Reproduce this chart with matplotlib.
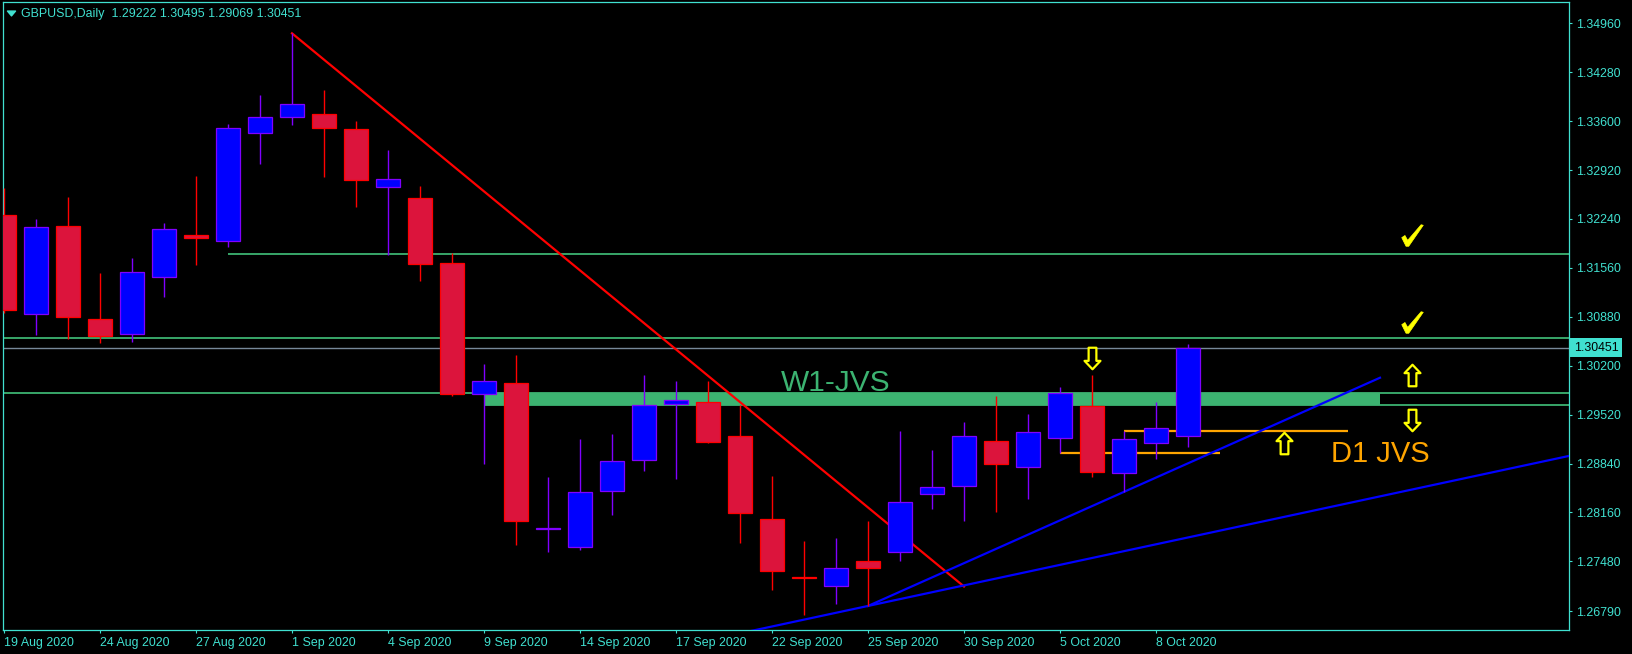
import numpy as np
import matplotlib
matplotlib.use("Agg")
import matplotlib.pyplot as plt
from matplotlib.path import Path
from matplotlib.transforms import blended_transform_factory

# GBPUSD daily candles
dates = ["2020-08-19", "2020-08-20", "2020-08-21", "2020-08-24", "2020-08-25",
         "2020-08-26", "2020-08-27", "2020-08-28", "2020-08-31", "2020-09-01",
         "2020-09-02", "2020-09-03", "2020-09-04", "2020-09-07", "2020-09-08",
         "2020-09-09", "2020-09-10", "2020-09-11", "2020-09-14", "2020-09-15",
         "2020-09-16", "2020-09-17", "2020-09-18", "2020-09-21", "2020-09-22",
         "2020-09-23", "2020-09-24", "2020-09-25", "2020-09-28", "2020-09-29",
         "2020-09-30", "2020-10-01", "2020-10-02", "2020-10-05", "2020-10-06",
         "2020-10-07", "2020-10-08", "2020-10-09"]
opens = [1.32295, 1.30915, 1.32138, 1.30845, 1.30637, 1.31429, 1.32013, 1.31934,
         1.33431, 1.33653, 1.33695, 1.33491, 1.32680, 1.32527, 1.31624, 1.29802,
         1.29955, 1.27935, 1.27684, 1.28462, 1.28885, 1.29663, 1.29696, 1.29223,
         1.28070, 1.27265, 1.27142, 1.27485, 1.27606, 1.28413, 1.28524, 1.29149,
         1.28788, 1.29191, 1.29640, 1.28705, 1.29130, 1.29222]
highs = [1.32670, 1.32239, 1.32545, 1.31489, 1.31697, 1.32184, 1.32837, 1.33560,
         1.33963, 1.34821, 1.34033, 1.33602, 1.33199, 1.32698, 1.31763, 1.30224,
         1.30349, 1.28653, 1.29181, 1.29251, 1.30071, 1.29987, 1.29987, 1.29650,
         1.28667, 1.27763, 1.27801, 1.28041, 1.29292, 1.29028, 1.29417, 1.29779,
         1.29529, 1.29900, 1.30071, 1.29292, 1.29696, 1.30495]
lows = [1.30930, 1.30627, 1.30571, 1.30520, 1.30534, 1.31159, 1.31600, 1.31854,
        1.33008, 1.33550, 1.32828, 1.32406, 1.31739, 1.31382, 1.29779, 1.28838,
        1.27711, 1.27606, 1.27642, 1.28129, 1.28741, 1.28625, 1.29130, 1.27739,
        1.27086, 1.26734, 1.26887, 1.26860, 1.27489, 1.28208, 1.28041, 1.28170,
        1.28351, 1.28986, 1.28657, 1.28440, 1.28899, 1.29069]
closes = [1.30978, 1.32124, 1.30873, 1.30617, 1.31499, 1.32096, 1.31980, 1.33500,
          1.33653, 1.33834, 1.33509, 1.32786, 1.32791, 1.31618, 1.29807, 1.29983,
          1.28037, 1.27940, 1.28440, 1.28871, 1.29650, 1.29719, 1.29144, 1.28149,
          1.27351, 1.27255, 1.27384, 1.27392, 1.28301, 1.28510, 1.29219, 1.28838,
          1.29274, 1.29817, 1.28727, 1.29177, 1.29330, 1.30451]

price_ticks = [1.34960, 1.34280, 1.33600, 1.32920, 1.32240, 1.31560, 1.30880,
               1.30200, 1.29520, 1.28840, 1.28160, 1.27480, 1.26790]
date_tick_bars = [0, 3, 6, 9, 12, 15, 18, 21, 24, 27, 30, 33, 36]
date_tick_labels = ["19 Aug 2020", "24 Aug 2020", "27 Aug 2020", "1 Sep 2020",
                    "4 Sep 2020", "9 Sep 2020", "14 Sep 2020", "17 Sep 2020",
                    "22 Sep 2020", "25 Sep 2020", "30 Sep 2020", "5 Oct 2020",
                    "8 Oct 2020"]

# drawn objects (bar index, price)
red_trend = ([9, 30], [1.34821, 1.27131])
blue_trend1 = ([27, 43], [1.26860, 1.30033])
blue_trend2 = ([20, 50], [1.26194, 1.29050])
w1_zone = ([15, 43], 1.29650, 1.29817)
green_levels = [(1.31753, 7), (1.30585, -1), (1.29817, -1), (1.29650, 15)]
d1_levels = [(1.29297, 35, 42), (1.28990, 33, 38)]
up_arrows = ([40, 44], [1.29121, 1.30064])
down_arrows = ([34, 44], [1.30307, 1.29452])
checks = ([44, 44], [1.32024, 1.30801])

FG = "#40E0D0"
GREEN = "#3CB371"

fig = plt.figure(figsize=(16.33, 6.54), dpi=100, facecolor="black")
ax = fig.add_axes([2.7 / 1633, 24 / 654, (1569 - 2.7) / 1633, (630 - 2.3) / 654])
ax.set_facecolor("black")
ax.set_xlim(-0.04, 48.906)
ax.set_ylim(1.26526, 1.35252)

x = np.arange(len(dates))
o = np.array(opens)
h = np.array(highs)
l = np.array(lows)
c = np.array(closes)
up = c >= o

# background objects
ax.fill_between(w1_zone[0], w1_zone[1], w1_zone[2], color=GREEN, lw=0, zorder=1)
for lvl, start in green_levels:
    ax.hlines(lvl, start, 60, color=GREEN, lw=1.3, zorder=2)
ax.hlines(closes[-1], -1, 60, color="#778899", lw=1.0, zorder=2)
for lvl, a, b in d1_levels:
    ax.hlines(lvl, a, b, color="#FFA500", lw=1.6, zorder=2)
ax.plot(*red_trend, color="#FF0000", lw=1.6, zorder=3)
ax.plot(*blue_trend1, color="#0000FF", lw=1.6, zorder=3)
ax.plot(*blue_trend2, color="#0000FF", lw=1.6, zorder=3)

# candles
edge = np.where(up, "#8000FF", "#FF0000")
body = np.where(up, "#0000FF", "#DC143C")
ax.vlines(x, l, h, colors=edge, lw=1.0, zorder=5)
ax.bar(x, np.abs(c - o), bottom=np.minimum(o, c), width=0.76, color=body,
       edgecolor=edge, linewidth=0.9, zorder=6)

# labels and marks
ax.text(24.28, 1.29852, "W1-JVS", color=GREEN, fontsize=21.5,
        family="Liberation Sans", ha="left", va="baseline", zorder=7)
ax.text(41.47, 1.28865, "D1 JVS", color="#FFA500", fontsize=21,
        family="Liberation Sans", ha="left", va="baseline", zorder=7)

up_path = Path([(0, 1), (0.74, 0.22), (0.36, 0.22), (0.36, -1), (-0.36, -1),
                (-0.36, 0.22), (-0.74, 0.22), (0, 1)],
               [Path.MOVETO] + [Path.LINETO] * 6 + [Path.CLOSEPOLY])
down_path = Path(up_path.vertices * [1, -1], up_path.codes)
check_path = Path([(-1.0, -0.2), (-0.7, 0.0), (-0.45, -0.45), (0.8, 1.0), (1.0, 0.95),
                   (-0.35, -1.0), (-0.6, -1.0), (-1.0, -0.2)],
                  [Path.MOVETO] + [Path.LINETO] * 6 + [Path.CLOSEPOLY])
ax.plot(*up_arrows, ls="none", marker=up_path, ms=15.5, mfc="black",
        mec="#FFFF00", mew=1.6, zorder=7)
ax.plot(*down_arrows, ls="none", marker=down_path, ms=15.5, mfc="black",
        mec="#FFFF00", mew=1.6, zorder=7)
ax.plot(*checks, ls="none", marker=check_path, ms=15.5, mfc="#FFFF00",
        mec="#FFFF00", mew=0.5, zorder=7)

# axes styling
for sp in ax.spines.values():
    sp.set_color(FG)
    sp.set_linewidth(0.9)
ax.yaxis.tick_right()
ax.set_yticks(price_ticks)
ax.set_yticklabels([f"{p:.5f}" for p in price_ticks])
ax.set_xticks(date_tick_bars)
ax.set_xticklabels(date_tick_labels)
ax.tick_params(axis="both", colors=FG, labelcolor=FG, direction="out",
               length=2.5, width=0.8, labelsize=8.9, pad=2.5)
for t in ax.get_xticklabels():
    t.set_ha("left")
    t.set_family("Liberation Sans")
for t in ax.get_yticklabels():
    t.set_family("Liberation Sans")

bt = blended_transform_factory(ax.transAxes, ax.transData)
ax.annotate(f"{closes[-1]:.5f}", xy=(1, closes[-1]), xycoords=bt,
            xytext=(3.6, 0), textcoords="offset points", ha="left", va="center",
            color="black", fontsize=8.9, family="Liberation Sans",
            bbox=dict(boxstyle="square,pad=0.3", fc=FG, ec="none"),
            annotation_clip=False)

tri = Path([(-1, 0.6), (1, 0.6), (0, -0.6), (-1, 0.6)],
           [Path.MOVETO, Path.LINETO, Path.LINETO, Path.CLOSEPOLY])
ax.plot([0.0053], [0.9837], transform=ax.transAxes, marker=tri, ms=5.8,
        color=FG, ls="none", clip_on=False)
fig.text(21 / 1633, 1 - 17 / 654,
         f"GBPUSD,Daily  {opens[-1]:.5f} {highs[-1]:.5f} {lows[-1]:.5f} {closes[-1]:.5f}",
         color=FG, fontsize=8.9, family="Liberation Sans", ha="left", va="baseline")

fig.savefig("out.png", dpi=100, facecolor="black")
